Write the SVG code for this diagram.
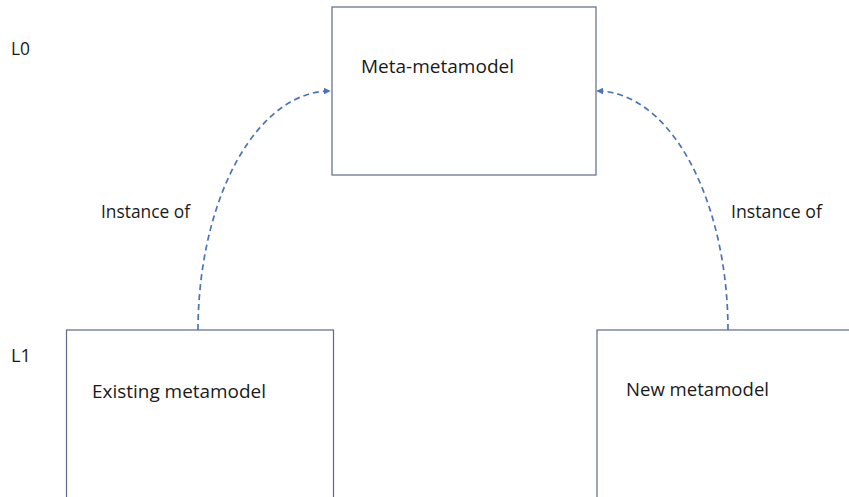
<svg xmlns="http://www.w3.org/2000/svg" width="849" height="497" viewBox="0 0 849 497">
  <style>
    .box { fill: #ffffff; stroke: #5b6b85; stroke-width: 1.2; }
    .lbl { font-family: "Open Sans", "Noto Sans", "Liberation Sans", sans-serif; font-size: 17.5px; fill: #1a1a1a; }
    .conn { fill: none; stroke: #4a74b8; stroke-width: 1.7; stroke-dasharray: 6 4; }
  </style>
  <defs>
    <marker id="arrow" viewBox="0 0 10 10" refX="9" refY="5" markerWidth="7" markerHeight="7" markerUnits="userSpaceOnUse" orient="auto">
      <path d="M0,0 L10,5 L0,10 Z" fill="#4a74b8"/>
    </marker>
  </defs>
  <rect width="849" height="497" fill="#ffffff"/>

  <!-- level labels -->
  <text class="lbl" x="11" y="55" textLength="19" lengthAdjust="spacingAndGlyphs">L0</text>
  <text class="lbl" x="11" y="362" textLength="20" lengthAdjust="spacingAndGlyphs">L1</text>

  <g id="meta-metamodel">
    <rect class="box" x="332" y="7" width="264" height="168"/>
    <text class="lbl" x="361" y="73" textLength="153" lengthAdjust="spacingAndGlyphs">Meta-metamodel</text>
  </g>

  <g id="existing-metamodel">
    <rect class="box" x="66.5" y="330" width="267" height="180"/>
    <text class="lbl" x="92" y="398" textLength="174" lengthAdjust="spacingAndGlyphs">Existing metamodel</text>
  </g>

  <g id="new-metamodel">
    <rect class="box" x="597" y="330" width="270" height="180"/>
    <text class="lbl" x="626" y="396" textLength="143" lengthAdjust="spacingAndGlyphs">New metamodel</text>
  </g>

  <g id="connectors">
    <path class="conn" d="M198,330 A132,240 0 0 1 330,91" marker-end="url(#arrow)"/>
    <path class="conn" d="M728,330 A131,240 0 0 0 597,91" marker-end="url(#arrow)"/>
    <text class="lbl" x="101" y="218" textLength="89" lengthAdjust="spacingAndGlyphs">Instance of</text>
    <text class="lbl" x="731" y="218" textLength="91" lengthAdjust="spacingAndGlyphs">Instance of</text>
  </g>
</svg>
